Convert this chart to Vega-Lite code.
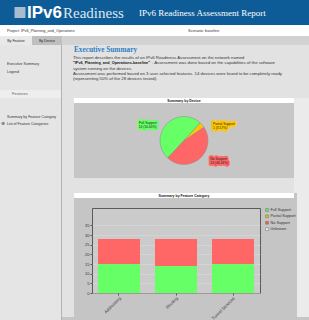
{
"$schema": "https://vega.github.io/schema/vega-lite/v6.json",
"background": "#c5c5c5",
"padding": 0,
"spacing": 0,
"config": {"view": {"stroke": null}, "concat": {"spacing": 0}, "font": "Liberation Sans"},
"resolve": {"scale": {"color": "independent", "stroke": "independent"}, "legend": {"color": "independent", "stroke": "independent"}},
"vconcat": [
 {"hconcat": [
  {"width": 14, "height": 25, "data": {"values": []}, "mark": "point", "encoding": {}, "view": {"fill": "#0e5c97", "stroke": null}},
  {"width": 12, "height": 25, "data": {"values": [{"k": "icon"}]}, "mark": {"type": "point", "shape": "square", "size": 121, "filled": true, "color": "#a9bccf", "opacity": 1}, "encoding": {}, "view": {"fill": "#0e5c97", "stroke": null}},
  {"width": 1, "height": 25, "data": {"values": []}, "mark": "point", "encoding": {}, "view": {"fill": "#0e5c97", "stroke": null}},
  {"width": 36, "height": 25, "view": {"fill": "#0e5c97", "stroke": null}, "data": {"values": [{"t": "IPv6"}]}, "mark": {"type": "text", "align": "left", "baseline": "middle", "fontSize": 17, "fontWeight": "bold", "color": "#ffffff"}, "encoding": {"text": {"field": "t"}, "x": {"field": "t", "type": "nominal", "axis": null, "scale": {"type": "point", "padding": 0, "align": 0}}}},
  {"width": 76, "height": 25, "view": {"fill": "#0e5c97", "stroke": null}, "data": {"values": [{"t": "Readiness"}]}, "mark": {"type": "text", "align": "left", "baseline": "middle", "fontSize": 15, "font": "Liberation Sans Narrow", "color": "#dfe8f1"}, "encoding": {"text": {"field": "t"}, "x": {"field": "t", "type": "nominal", "axis": null, "scale": {"type": "point", "padding": 0, "align": 0}}}},
  {"width": 170, "height": 25, "view": {"fill": "#0e5c97", "stroke": null}, "data": {"values": [{"t": "IPv6 Readiness Assessment Report"}]}, "mark": {"type": "text", "align": "left", "baseline": "middle", "fontSize": 9, "font": "Liberation Serif", "color": "#ffffff"}, "encoding": {"text": {"field": "t"}, "x": {"field": "t", "type": "nominal", "axis": null, "scale": {"type": "point", "padding": 0, "align": 0}}}}
 ], "spacing": 0},
 {"hconcat": [
  {"width": 7, "height": 11, "data": {"values": []}, "mark": "point", "encoding": {}, "view": {"fill": "#ffffff", "stroke": null}},
  {"width": 181, "height": 11, "view": {"fill": "#ffffff", "stroke": null}, "data": {"values": [{"t": "Project: IPv6_Planning_and_Operations"}]}, "mark": {"type": "text", "align": "left", "baseline": "middle", "fontSize": 3.8, "color": "#333333"}, "encoding": {"text": {"field": "t"}, "x": {"field": "t", "type": "nominal", "axis": null, "scale": {"type": "point", "padding": 0, "align": 0}}}},
  {"width": 121, "height": 11, "view": {"fill": "#ffffff", "stroke": null}, "data": {"values": [{"t": "Scenario: baseline"}]}, "mark": {"type": "text", "align": "left", "baseline": "middle", "fontSize": 3.8, "color": "#333333"}, "encoding": {"text": {"field": "t"}, "x": {"field": "t", "type": "nominal", "axis": null, "scale": {"type": "point", "padding": 0, "align": 0}}}}
 ], "spacing": 0},
 {"hconcat": [
  {"width": 32, "height": 9, "view": {"fill": "#e9e9e9", "stroke": null}, "data": {"values": [{"t": "By Feature"}]}, "mark": {"type": "text", "baseline": "middle", "fontSize": 3.6, "color": "#222222"}, "encoding": {"text": {"field": "t"}}},
  {"width": 30, "height": 9, "view": {"fill": "#bfbfbf", "stroke": null}, "data": {"values": [{"t": "By Device"}]}, "mark": {"type": "text", "baseline": "middle", "fontSize": 3.6, "color": "#222222"}, "encoding": {"text": {"field": "t"}}},
  {"width": 247, "height": 9, "data": {"values": []}, "mark": "point", "encoding": {}, "view": {"fill": "#d2d2d2", "stroke": null}}
 ], "spacing": 0},
 {"resolve": {"scale": {"color": "independent", "stroke": "independent"}, "legend": {"color": "independent", "stroke": "independent"}},
  "hconcat": [
  {"vconcat": [
   {"width": 61, "height": 16, "data": {"values": []}, "mark": "point", "encoding": {}, "view": {"fill": "#e5e5e5", "stroke": null}},
   {"hconcat": [
    {"width": 7, "height": 6, "data": {"values": []}, "mark": "point", "encoding": {}, "view": {"fill": "#e5e5e5", "stroke": null}},
    {"width": 54, "height": 6, "view": {"fill": "#e5e5e5", "stroke": null}, "data": {"values": [{"t": "Executive Summary"}]}, "mark": {"type": "text", "align": "left", "baseline": "middle", "fontSize": 3.6, "color": "#333333"}, "encoding": {"text": {"field": "t"}, "x": {"field": "t", "type": "nominal", "axis": null, "scale": {"type": "point", "padding": 0, "align": 0}}}}
   ], "spacing": 0},
   {"hconcat": [
    {"width": 7, "height": 10, "data": {"values": []}, "mark": "point", "encoding": {}, "view": {"fill": "#e5e5e5", "stroke": null}},
    {"width": 54, "height": 10, "view": {"fill": "#e5e5e5", "stroke": null}, "data": {"values": [{"t": "Legend"}]}, "mark": {"type": "text", "align": "left", "baseline": "middle", "fontSize": 3.6, "color": "#333333"}, "encoding": {"text": {"field": "t"}, "x": {"field": "t", "type": "nominal", "axis": null, "scale": {"type": "point", "padding": 0, "align": 0}}}}
   ], "spacing": 0},
   {"width": 61, "height": 13, "data": {"values": []}, "mark": "point", "encoding": {}, "view": {"fill": "#e5e5e5", "stroke": null}},
   {"hconcat": [
    {"width": 12, "height": 8, "data": {"values": []}, "mark": "point", "encoding": {}, "view": {"fill": "#eeeeee", "stroke": null}},
    {"width": 49, "height": 8, "view": {"fill": "#eeeeee", "stroke": null}, "data": {"values": [{"t": "Features"}]}, "mark": {"type": "text", "align": "left", "baseline": "middle", "fontSize": 4, "color": "#666666"}, "encoding": {"text": {"field": "t"}, "x": {"field": "t", "type": "nominal", "axis": null, "scale": {"type": "point", "padding": 0, "align": 0}}}}
   ], "spacing": 0},
   {"width": 61, "height": 16, "data": {"values": []}, "mark": "point", "encoding": {}, "view": {"fill": "#e5e5e5", "stroke": null}},
   {"hconcat": [
    {"width": 7, "height": 6, "data": {"values": []}, "mark": "point", "encoding": {}, "view": {"fill": "#e5e5e5", "stroke": null}},
    {"width": 54, "height": 6, "view": {"fill": "#e5e5e5", "stroke": null}, "data": {"values": [{"t": "Summary by Feature Category"}]}, "mark": {"type": "text", "align": "left", "baseline": "middle", "fontSize": 3.6, "color": "#333333"}, "encoding": {"text": {"field": "t"}, "x": {"field": "t", "type": "nominal", "axis": null, "scale": {"type": "point", "padding": 0, "align": 0}}}}
   ], "spacing": 0},
   {"hconcat": [
    {"width": 1, "height": 8, "data": {"values": []}, "mark": "point", "encoding": {}, "view": {"fill": "#e5e5e5", "stroke": null}},
    {"width": 6, "height": 8, "view": {"fill": "#e5e5e5", "stroke": null}, "data": {"values": [{"t": "⊕"}]}, "mark": {"type": "text", "align": "left", "baseline": "middle", "fontSize": 4.5, "color": "#555555"}, "encoding": {"text": {"field": "t"}, "x": {"field": "t", "type": "nominal", "axis": null, "scale": {"type": "point", "padding": 0, "align": 0}}}},
    {"width": 54, "height": 8, "view": {"fill": "#e5e5e5", "stroke": null}, "data": {"values": [{"t": "List of Feature Categories"}]}, "mark": {"type": "text", "align": "left", "baseline": "middle", "fontSize": 3.6, "color": "#333333"}, "encoding": {"text": {"field": "t"}, "x": {"field": "t", "type": "nominal", "axis": null, "scale": {"type": "point", "padding": 0, "align": 0}}}}
   ], "spacing": 0},
   {"width": 61, "height": 192, "data": {"values": []}, "mark": "point", "encoding": {}, "view": {"fill": "#e5e5e5", "stroke": null}}
  ], "spacing": 0},
  {"width": 1, "height": 275, "data": {"values": []}, "mark": "point", "encoding": {}, "view": {"fill": "#b3b3b3", "stroke": null}},
  {"resolve": {"scale": {"color": "independent", "stroke": "independent"}, "legend": {"color": "independent", "stroke": "independent"}},
   "vconcat": [
   {"hconcat": [
    {"width": 12, "height": 10, "data": {"values": []}, "mark": "point", "encoding": {}, "view": {"fill": "#e2e2e2", "stroke": null}},
    {"width": 235, "height": 10, "view": {"fill": "#e2e2e2", "stroke": null}, "data": {"values": [{"t": "Executive Summary"}]}, "mark": {"type": "text", "align": "left", "baseline": "middle", "fontSize": 7.3, "font": "Liberation Serif", "fontWeight": "bold", "color": "#2d7ec4"}, "encoding": {"text": {"field": "t"}, "x": {"field": "t", "type": "nominal", "axis": null, "scale": {"type": "point", "padding": 0, "align": 0}}}}
   ], "spacing": 0},
   {"hconcat": [
    {"width": 11, "height": 5, "data": {"values": []}, "mark": "point", "encoding": {}, "view": {"fill": "#e2e2e2", "stroke": null}},
    {"width": 236, "height": 5, "view": {"fill": "#e2e2e2", "stroke": null}, "data": {"values": [{"t": "This report describes the results of an IPv6 Readiness Assessment on the network named"}]}, "mark": {"type": "text", "align": "left", "baseline": "middle", "fontSize": 4.3, "color": "#333333"}, "encoding": {"text": {"field": "t"}, "x": {"field": "t", "type": "nominal", "axis": null, "scale": {"type": "point", "padding": 0, "align": 0}}}}
   ], "spacing": 0},
   {"hconcat": [
    {"width": 11, "height": 5, "data": {"values": []}, "mark": "point", "encoding": {}, "view": {"fill": "#e2e2e2", "stroke": null}},
    {"width": 79, "height": 5, "view": {"fill": "#e2e2e2", "stroke": null}, "data": {"values": [{"t": "\"IPv6_Planning_and_Operations-baseline\""}]}, "mark": {"type": "text", "align": "left", "baseline": "middle", "fontSize": 3.8, "fontWeight": "bold", "color": "#111111"}, "encoding": {"text": {"field": "t"}, "x": {"field": "t", "type": "nominal", "axis": null, "scale": {"type": "point", "padding": 0, "align": 0}}}},
    {"width": 157, "height": 5, "view": {"fill": "#e2e2e2", "stroke": null}, "data": {"values": [{"t": ". Assessment was done based on the capabilities of the software"}]}, "mark": {"type": "text", "align": "left", "baseline": "middle", "fontSize": 4.3, "color": "#333333"}, "encoding": {"text": {"field": "t"}, "x": {"field": "t", "type": "nominal", "axis": null, "scale": {"type": "point", "padding": 0, "align": 0}}}}
   ], "spacing": 0},
   {"hconcat": [
    {"width": 11, "height": 7, "data": {"values": []}, "mark": "point", "encoding": {}, "view": {"fill": "#e2e2e2", "stroke": null}},
    {"width": 236, "height": 7, "view": {"fill": "#e2e2e2", "stroke": null}, "data": {"values": [{"t": "system running on the devices."}]}, "mark": {"type": "text", "align": "left", "baseline": "middle", "fontSize": 4.3, "color": "#333333"}, "encoding": {"text": {"field": "t"}, "x": {"field": "t", "type": "nominal", "axis": null, "scale": {"type": "point", "padding": 0, "align": 0}}}}
   ], "spacing": 0},
   {"hconcat": [
    {"width": 11, "height": 26, "data": {"values": []}, "mark": "point", "encoding": {}, "view": {"fill": "#e2e2e2", "stroke": null}},
    {"width": 236, "height": 26, "view": {"fill": "#e2e2e2", "stroke": null}, "data": {"values": [{"t": "Assessment was performed based on 3 user-selected features. 14 devices were found to be completely ready\n(representing 50% of the 28 devices tested)."}]}, "mark": {"type": "text", "align": "left", "baseline": "top", "fontSize": 4.3, "lineBreak": "\n", "lineHeight": 5, "color": "#333333"}, "encoding": {"text": {"field": "t"}, "x": {"field": "t", "type": "nominal", "axis": null, "scale": {"type": "point", "padding": 0, "align": 0}}, "y": {"field": "t", "type": "nominal", "axis": null, "scale": {"type": "point", "padding": 0, "align": 0}}}}
   ], "spacing": 0},
   {"resolve": {"scale": {"color": "independent", "stroke": "independent"}, "legend": {"color": "independent", "stroke": "independent"}},
    "hconcat": [
    {"width": 12, "height": 80, "data": {"values": []}, "mark": "point", "encoding": {}, "view": {"fill": "#e2e2e2", "stroke": null}},
    {"resolve": {"scale": {"color": "independent", "stroke": "independent"}, "legend": {"color": "independent", "stroke": "independent"}},
     "vconcat": [
     {"width": 220, "height": 5, "view": {"fill": "#ffffff", "stroke": null}, "data": {"values": [{"t": "Summary by Device"}]}, "mark": {"type": "text", "baseline": "middle", "fontSize": 3.5, "fontWeight": "bold", "color": "#111111"}, "encoding": {"text": {"field": "t"}}},
     {"width": 220, "height": 75,
      "view": {"fill": "#c6c6c6", "stroke": null},
      "data": {"values": [
       {"support": "Full Support", "devices": 14, "label": "Full Support\n14 (50.00%)"},
       {"support": "No Support", "devices": 13, "label": "No Support\n13 (46.43%)"},
       {"support": "Partial Support", "devices": 1, "label": "Partial Support\n1 (3.57%)"}
      ]},
      "encoding": {
       "theta": {"field": "devices", "type": "quantitative", "stack": true, "scale": {"range": [0.75, -5.533]}},
       "order": {"field": "devices", "type": "quantitative", "sort": "descending"}
      },
      "layer": [
       {"mark": {"type": "arc", "outerRadius": 24, "stroke": "#8a8a8a", "strokeWidth": 0.5},
        "encoding": {"color": {"field": "support", "type": "nominal", "scale": {"domain": ["Full Support", "Partial Support", "No Support"], "range": ["#66ff66", "#ffc800", "#ff6666"]}, "legend": null}}},
       {"mark": {"type": "text", "radius": 25, "align": "right", "baseline": "middle", "dx": -9, "fontSize": 3.3, "lineBreak": "\n", "lineHeight": 3.8, "strokeWidth": 3.4, "strokeJoin": "round"},
        "encoding": {"text": {"condition": {"test": "datum.support === 'Full Support'", "field": "label"}, "value": ""},
         "color": {"field": "support", "type": "nominal", "scale": {"domain": ["Full Support", "Partial Support", "No Support"], "range": ["#66ff66", "#ffc800", "#ff6666"]}, "legend": null},
         "stroke": {"field": "support", "type": "nominal", "scale": {"domain": ["Full Support", "Partial Support", "No Support"], "range": ["#66ff66", "#ffc800", "#ff6666"]}, "legend": null}}},
       {"mark": {"type": "text", "radius": 25, "align": "left", "baseline": "middle", "dx": 10, "fontSize": 3.3, "lineBreak": "\n", "lineHeight": 3.8, "strokeWidth": 3.4, "strokeJoin": "round"},
        "encoding": {"text": {"condition": {"test": "datum.support !== 'Full Support'", "field": "label"}, "value": ""},
         "color": {"field": "support", "type": "nominal", "scale": {"domain": ["Full Support", "Partial Support", "No Support"], "range": ["#66ff66", "#ffc800", "#ff6666"]}, "legend": null},
         "stroke": {"field": "support", "type": "nominal", "scale": {"domain": ["Full Support", "Partial Support", "No Support"], "range": ["#66ff66", "#ffc800", "#ff6666"]}, "legend": null}}},
       {"mark": {"type": "text", "radius": 25, "align": "right", "baseline": "middle", "dx": -9, "fontSize": 3.3, "lineBreak": "\n", "lineHeight": 3.8, "color": "#222222"},
        "encoding": {"text": {"condition": {"test": "datum.support === 'Full Support'", "field": "label"}, "value": ""}, "detail": {"field": "support"}}},
       {"mark": {"type": "text", "radius": 25, "align": "left", "baseline": "middle", "dx": 10, "fontSize": 3.3, "lineBreak": "\n", "lineHeight": 3.8, "color": "#222222"},
        "encoding": {"text": {"condition": {"test": "datum.support !== 'Full Support'", "field": "label"}, "value": ""}, "detail": {"field": "support"}}}
      ]}
    ], "spacing": 0},
    {"width": 15, "height": 80, "data": {"values": []}, "mark": "point", "encoding": {}, "view": {"fill": "#ebebeb", "stroke": null}}
   ], "spacing": 0},
   {"hconcat": [
    {"width": 232, "height": 15, "data": {"values": []}, "mark": "point", "encoding": {}, "view": {"fill": "#e2e2e2", "stroke": null}},
    {"width": 15, "height": 15, "data": {"values": []}, "mark": "point", "encoding": {}, "view": {"fill": "#ebebeb", "stroke": null}}
   ], "spacing": 0},
   {"resolve": {"scale": {"color": "independent", "stroke": "independent"}, "legend": {"color": "independent", "stroke": "independent"}},
    "hconcat": [
    {"width": 12, "height": 124, "data": {"values": []}, "mark": "point", "encoding": {}, "view": {"fill": "#e2e2e2", "stroke": null}},
    {"resolve": {"scale": {"color": "independent", "stroke": "independent"}, "legend": {"color": "independent", "stroke": "independent"}},
     "vconcat": [
     {"width": 220, "height": 5, "view": {"fill": "#ffffff", "stroke": null}, "data": {"values": [{"t": "Summary by Feature Category"}]}, "mark": {"type": "text", "baseline": "middle", "fontSize": 3.5, "fontWeight": "bold", "color": "#111111"}, "encoding": {"text": {"field": "t"}}},
     {"width": 220, "height": 9, "data": {"values": []}, "mark": "point", "encoding": {}, "view": {"fill": null, "stroke": null}},
     {"resolve": {"scale": {"color": "independent", "stroke": "independent"}, "legend": {"color": "independent", "stroke": "independent"}},
      "hconcat": [
      {"width": 10, "height": 85, "data": {"values": []}, "mark": "point", "encoding": {}, "view": {"fill": null, "stroke": null}},
      {"width": 168, "height": 85,
       "view": {"fill": "#cbcbcb", "stroke": "#5a5a5a", "strokeWidth": 1},
       "data": {"values": [
        {"category": "Addressing", "support": "Full Support", "devices": 15},
        {"category": "Addressing", "support": "No Support", "devices": 13},
        {"category": "Routing", "support": "Full Support", "devices": 14},
        {"category": "Routing", "support": "No Support", "devices": 14},
        {"category": "Tunnel Services", "support": "Full Support", "devices": 15},
        {"category": "Tunnel Services", "support": "No Support", "devices": 13}
       ]},
       "mark": {"type": "bar"},
       "encoding": {
        "x": {"field": "category", "type": "nominal", "sort": null, "scale": {"paddingInner": 0.263, "paddingOuter": 0.105}, "axis": {"title": null, "labelAngle": -45, "labelFontSize": 4.3, "labelColor": "#333333", "tickSize": 2, "tickColor": "#555555", "domain": false, "labelPadding": 1}},
        "y": {"field": "devices", "type": "quantitative", "stack": "zero", "scale": {"domain": [0, 44], "nice": false}, "axis": {"title": null, "values": [0, 5, 10, 15, 20, 25, 30, 35], "labelFontSize": 4, "labelColor": "#333333", "tickSize": 2, "tickColor": "#555555", "domain": false, "gridColor": "#dddddd", "gridWidth": 0.5, "labelPadding": 1}},
        "color": {"field": "support", "type": "nominal", "scale": {"domain": ["Full Support", "Partial Support", "No Support", "Unknown"], "range": ["#66ff66", "#ffc800", "#ff6666", "#ffffff"]}, "legend": {"title": null, "orient": "right", "offset": 5, "padding": 0, "symbolType": "square", "symbolSize": 7, "symbolStrokeColor": "#444444", "symbolStrokeWidth": 0.4, "labelFontSize": 3.8, "labelColor": "#333333", "labelOffset": 1.5, "rowPadding": 0.4}},
        "order": {"field": "support", "type": "nominal", "sort": "ascending"}
       }}
     ], "spacing": 0}
    ], "spacing": 0},
    {"width": 15, "height": 124, "data": {"values": []}, "mark": "point", "encoding": {}, "view": {"fill": "#ebebeb", "stroke": null}}
   ], "spacing": 0},
   {"hconcat": [
    {"width": 232, "height": 3, "data": {"values": []}, "mark": "point", "encoding": {}, "view": {"fill": "#e2e2e2", "stroke": null}},
    {"width": 15, "height": 3, "data": {"values": []}, "mark": "point", "encoding": {}, "view": {"fill": "#ebebeb", "stroke": null}}
   ], "spacing": 0}
  ], "spacing": 0}
 ], "spacing": 0}
]
}
